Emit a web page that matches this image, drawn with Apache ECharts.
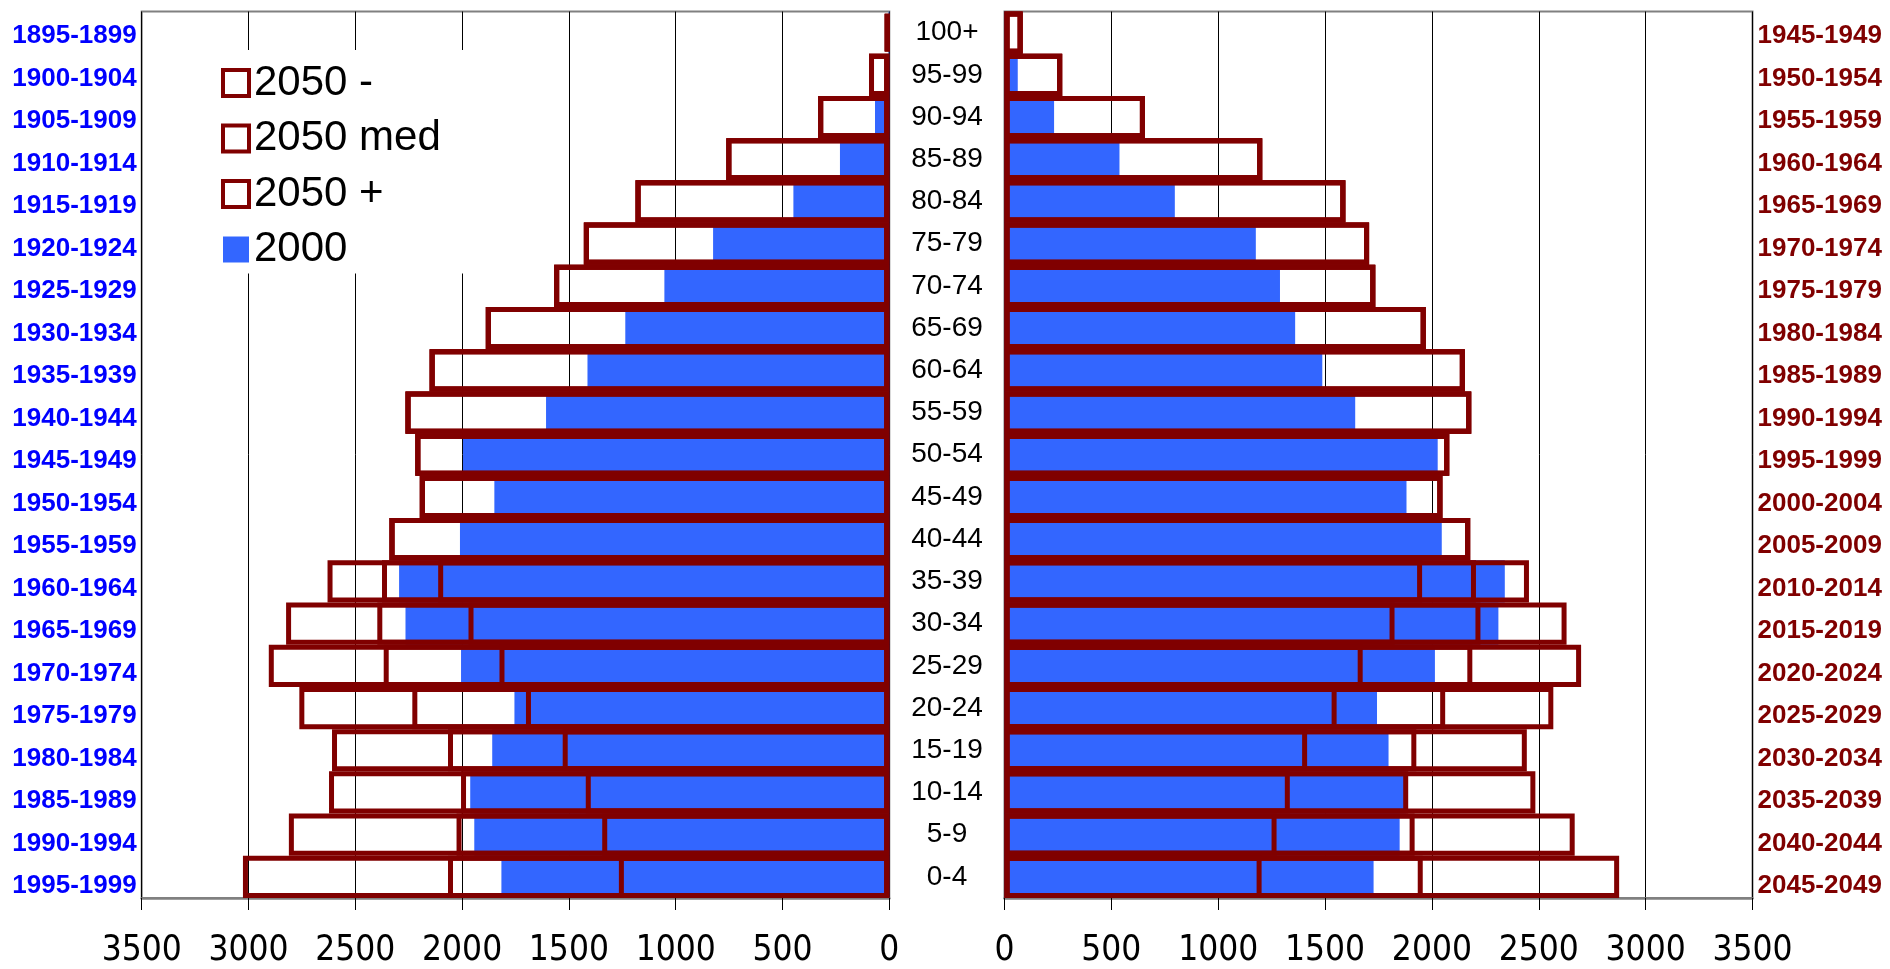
<!DOCTYPE html>
<html>
<head>
<meta charset="utf-8">
<script src="https://cdn.jsdelivr.net/npm/echarts@6/dist/echarts.min.js"></script>
<style>
html,body{margin:0;padding:0;background:#fff;}
#chart{width:1890px;height:969px;}
</style>
</head>
<body>
<div id="chart"></div>
<script>
// Age groups (top to bottom)
var ages = ['100+','95-99','90-94','85-89','80-84','75-79','70-74','65-69','60-64','55-59','50-54','45-49','40-44','35-39','30-34','25-29','20-24','15-19','10-14','5-9','0-4'];
// Birth cohorts for the 2000 population (left) and 2050 population (right)
var cohorts2000 = ['1895-1899','1900-1904','1905-1909','1910-1914','1915-1919','1920-1924','1925-1929','1930-1934','1935-1939','1940-1944','1945-1949','1950-1954','1955-1959','1960-1964','1965-1969','1970-1974','1975-1979','1980-1984','1985-1989','1990-1994','1995-1999'];
var cohorts2050 = ['1945-1949','1950-1954','1955-1959','1960-1964','1965-1969','1970-1974','1975-1979','1980-1984','1985-1989','1990-1994','1995-1999','2000-2004','2005-2009','2010-2014','2015-2019','2020-2024','2025-2029','2030-2034','2035-2039','2040-2044','2045-2049'];
// Tick values of the bottom axes
var tickMax = 3500;
var tickStep = 500;

// Left panel
var left2000    = [3, 8, 67, 231, 449, 825, 1053, 1236, 1413, 1607, 1996, 1849, 2010, 2295, 2265, 2005, 1755, 1859, 1962, 1943, 1816];
var left2050low = [20, 95, 333, 763, 1188, 1430, 1569, 1889, 2152, 2265, 2219, 2198, 2340, 2112, 1970, 1825, 1701, 1529, 1421, 1344, 1266];
var left2050med = [20, 95, 333, 763, 1188, 1430, 1569, 1889, 2152, 2265, 2219, 2198, 2340, 2375, 2397, 2367, 2233, 2066, 2005, 2026, 2066];
var left2050high= [20, 95, 333, 763, 1188, 1430, 1569, 1889, 2152, 2265, 2219, 2198, 2340, 2630, 2824, 2905, 2762, 2609, 2623, 2811, 3026];

// Right panel
var right2000    = [4, 62, 232, 538, 797, 1176, 1289, 1360, 1487, 1641, 2027, 1881, 2046, 2341, 2311, 2014, 1743, 1797, 1879, 1849, 1727];
var right2050low = [85, 270, 657, 1206, 1595, 1706, 1735, 1971, 2154, 2184, 2081, 2049, 2179, 1954, 1825, 1676, 1554, 1416, 1335, 1273, 1203];
var right2050med = [85, 270, 657, 1206, 1595, 1706, 1735, 1971, 2154, 2184, 2081, 2049, 2179, 2206, 2227, 2189, 2062, 1927, 1889, 1919, 1957];
var right2050high= [85, 270, 657, 1206, 1595, 1706, 1735, 1971, 2154, 2184, 2081, 2049, 2179, 2454, 2630, 2698, 2568, 2444, 2484, 2668, 2876];

var BLUE = '#3366FF', RED = '#800000', GRAY = '#808080';
var FONT = "'Liberation Sans', Arial, sans-serif";
var NARROW = "'Liberation Sans Narrow', 'Arial Narrow', 'DejaVu Sans Condensed', sans-serif";

function valueAxis(grid, inverse) {
  return {
    type: 'value', gridIndex: grid, min: 0, max: tickMax, interval: tickStep, inverse: inverse,
    axisLine: {show: true, lineStyle: {color: GRAY, width: 2.5}},
    axisTick: {show: true, length: 12, lineStyle: {color: '#000', width: 1}},
    axisLabel: {show: true, margin: 35, fontSize: 35, fontFamily: NARROW, color: '#000',
                formatter: function (v) { return String(v); }},
    splitLine: {show: true, lineStyle: {color: '#000', width: 1}}
  };
}
function outline(name, data, xi, yi) {
  return {
    name: name, type: 'bar', xAxisIndex: xi, yAxisIndex: yi, data: data,
    barWidth: '100%', barGap: '-100%',
    itemStyle: {color: 'rgba(255,255,255,0)', borderColor: RED, borderWidth: 5},
    emphasis: {disabled: true}, silent: true, z: 3
  };
}
function filled(data, xi, yi) {
  return {
    name: '2000', type: 'bar', xAxisIndex: xi, yAxisIndex: yi, data: data,
    barWidth: '100%', barGap: '-100%',
    itemStyle: {color: BLUE, borderWidth: 0},
    emphasis: {disabled: true}, silent: true, z: 2
  };
}

var chart = echarts.init(document.getElementById('chart'), null, {renderer: 'canvas'});
chart.setOption({
  backgroundColor: '#fff',
  animation: false,
  grid: [
    {left: 141.7, right: 1000.7, top: 11.5, bottom: 71, show: true, borderColor: GRAY, borderWidth: 2, backgroundColor: 'transparent'},
    {left: 1004.5, right: 137.5, top: 11.5, bottom: 71, show: true, borderColor: GRAY, borderWidth: 2, backgroundColor: 'transparent'},
    {left: 141.7, right: 137.5, top: 15, bottom: 61.7, show: false}
  ],
  xAxis: [
    valueAxis(0, true),
    valueAxis(1, false),
    {type: 'value', gridIndex: 2, show: false, min: 0, max: 1}
  ],
  yAxis: [
    {type: 'category', gridIndex: 0, data: ages, inverse: true, axisLine: {show: false}, axisTick: {show: false}, axisLabel: {show: false}, splitLine: {show: false}},
    {type: 'category', gridIndex: 1, data: ages, inverse: true, position: 'left',
     axisLine: {show: false}, axisTick: {show: false}, splitLine: {show: false},
     axisLabel: {show: true, align: 'center', margin: 57.5, fontSize: 28, fontFamily: FONT, color: '#000'}},
    {type: 'category', gridIndex: 2, data: cohorts2000, inverse: true, position: 'left',
     axisLine: {show: false}, axisTick: {show: false}, splitLine: {show: false},
     axisLabel: {show: true, margin: 5, fontSize: 26, fontWeight: 'bold', fontFamily: FONT, color: '#0000FF'}},
    {type: 'category', gridIndex: 2, data: cohorts2050, inverse: true, position: 'right',
     axisLine: {show: false}, axisTick: {show: false}, splitLine: {show: false},
     axisLabel: {show: true, margin: 5, fontSize: 26, fontWeight: 'bold', fontFamily: FONT, color: RED}}
  ],
  legend: {
    show: true, orient: 'vertical', left: 205, top: 50,
    padding: [12, 55, 3, 16],
    backgroundColor: '#fff',
    itemWidth: 26, itemHeight: 26, itemGap: 13.5, itemTextGap: 14,
    selectedMode: false, icon: 'rect',
    textStyle: {fontSize: 42, lineHeight: 42, fontFamily: FONT, color: '#000'},
    data: [
      {name: '2050 -', itemStyle: {color: '#fff', borderColor: RED, borderWidth: 4}},
      {name: '2050 med', itemStyle: {color: '#fff', borderColor: RED, borderWidth: 4}},
      {name: '2050 +', itemStyle: {color: '#fff', borderColor: RED, borderWidth: 4}},
      {name: '2000', itemStyle: {color: BLUE, borderWidth: 0}}
    ],
    z: 10
  },
  series: [
    filled(left2000, 0, 0),
    outline('2050 +', left2050high, 0, 0),
    outline('2050 med', left2050med, 0, 0),
    outline('2050 -', left2050low, 0, 0),
    filled(right2000, 1, 1),
    outline('2050 +', right2050high, 1, 1),
    outline('2050 med', right2050med, 1, 1),
    outline('2050 -', right2050low, 1, 1)
  ]
});
</script>
</body>
</html>
